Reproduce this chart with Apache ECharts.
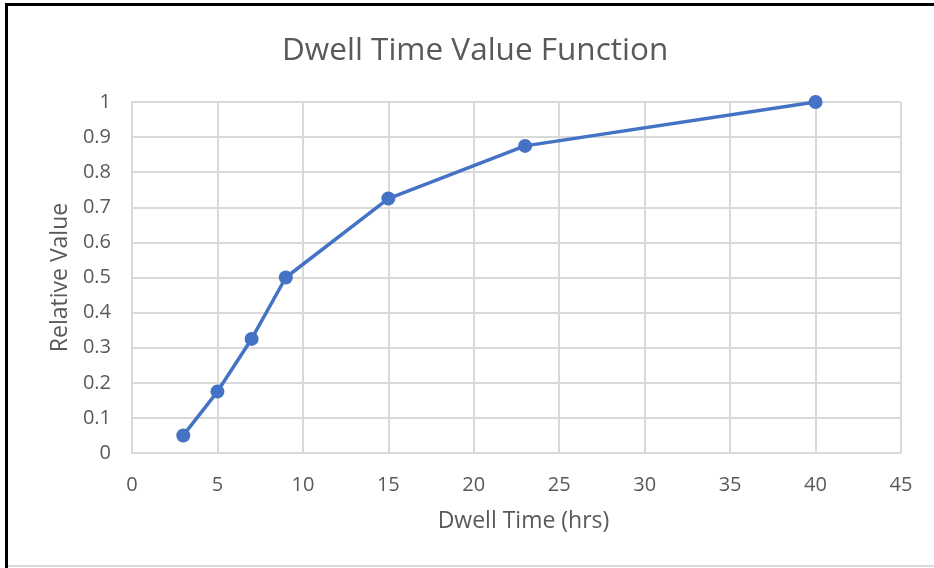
<!DOCTYPE html>
<html>
<head>
<meta charset="utf-8">
<script src="https://cdn.jsdelivr.net/npm/echarts@6/dist/echarts.min.js"></script>
<style>
html,body{margin:0;padding:0;background:#fff;}
#c{width:934px;height:568px;}
</style>
</head>
<body>
<div id="c"></div>
<script>
const titleText = "Dwell Time Value Function";
const xName = "Dwell Time (hrs)";
const yName = "Relative Value";
const dwellHours = [3, 5, 7, 9, 15, 23, 40];
const relativeValue = [0.05, 0.175, 0.325, 0.5, 0.725, 0.875, 1.0];

const font = "'Open Sans', sans-serif";
const chart = echarts.init(document.getElementById('c'), null, {renderer: 'canvas'});
chart.setOption({
  backgroundColor: '#ffffff',
  animation: false,
  title: {
    text: titleText,
    left: 282,
    top: 35,
    padding: 0,
    textStyle: {fontFamily: font, fontSize: 31.5, fontWeight: 'normal', color: '#595959'}
  },
  grid: {left: 132, right: 33, top: 102, bottom: 115, containLabel: false},
  xAxis: {
    type: 'value', min: 0, max: 45, interval: 5,
    name: xName, nameLocation: 'middle', nameGap: 57,
    nameTextStyle: {fontFamily: font, fontSize: 23, color: '#595959', padding: [0, 0, 0, 14]},
    axisLine: {show: true, lineStyle: {color: '#d9d9d9', width: 2}},
    axisTick: {show: false},
    axisLabel: {fontFamily: font, fontSize: 20, color: '#595959', margin: 22},
    splitLine: {show: true, lineStyle: {color: '#d9d9d9', width: 2}}
  },
  yAxis: {
    type: 'value', min: 0, max: 1, interval: 0.1,
    name: yName, nameLocation: 'middle', nameGap: 60, nameRotate: 90,
    nameTextStyle: {fontFamily: font, fontSize: 23, color: '#595959'},
    axisLine: {show: true, lineStyle: {color: '#d9d9d9', width: 2}},
    axisTick: {show: false},
    axisLabel: {fontFamily: font, fontSize: 20, color: '#595959', margin: 21,
      formatter: v => String(Math.round(v * 10) / 10)},
    splitLine: {show: true, lineStyle: {color: '#d9d9d9', width: 2}}
  },
  series: [{
    type: 'line',
    data: dwellHours.map((x, i) => [x, relativeValue[i]]),
    symbol: 'circle', symbolSize: 14,
    lineStyle: {color: '#4472C4', width: 3.5},
    itemStyle: {color: '#4472C4'}
  }],
  graphic: [
    {type: 'rect', shape: {x: 5, y: 3, width: 940, height: 3}, style: {fill: '#000'}, silent: true},
    {type: 'rect', shape: {x: 5, y: 3, width: 3, height: 570}, style: {fill: '#000'}, silent: true},
    {type: 'rect', shape: {x: 8, y: 565, width: 940, height: 2}, style: {fill: '#d9d9d9'}, silent: true}
  ]
});
</script>
</body>
</html>
